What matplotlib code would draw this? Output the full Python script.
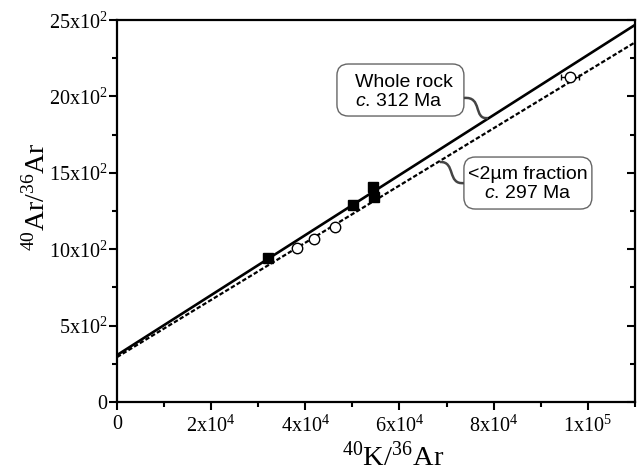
import numpy as np
import matplotlib
matplotlib.use("Agg")
import matplotlib.pyplot as plt
from matplotlib.path import Path
from matplotlib.patches import PathPatch, FancyBboxPatch
from matplotlib.ticker import MultipleLocator, FixedLocator

plt.rcParams['mathtext.fontset'] = 'custom'
plt.rcParams['mathtext.rm'] = 'Liberation Serif'
plt.rcParams['mathtext.it'] = 'Liberation Sans:italic'

# Whole rock (filled squares)
wr_x = [32100, 50100, 54400, 54600]
wr_y = [942, 1289, 1405, 1345]
wr_yerr = [12, 15, 30, 30]

# <2um fraction (open circles)
fr_x = [38200, 41800, 46300, 96200]
fr_y = [1008, 1067, 1145, 2127]
fr_xerr = [600, 600, 600, 1900]
fr_yerr = [10, 10, 10, 25]

# isochrons (intercept, slope)
wr_fit = (307, 0.01964)
fr_fit = (294, 0.01872)

xticks = [0, 20000, 40000, 60000, 80000, 100000]
xticklabels = ['0', r'2x10$^{4}$', r'4x10$^{4}$', r'6x10$^{4}$', r'8x10$^{4}$', r'1x10$^{5}$']
yticks = [0, 500, 1000, 1500, 2000, 2500]
yticklabels = ['0', r'5x10$^{2}$', r'10x10$^{2}$', r'15x10$^{2}$', r'20x10$^{2}$', r'25x10$^{2}$']

fig = plt.figure(figsize=(6.4, 4.73), dpi=100)
ax = fig.add_axes([0.1828, 0.150, 0.8092, 0.8077])
ax.set_xlim(0, 110000)
ax.set_ylim(0, 2500)

xx = np.array([0, 110000])
ax.plot(xx, wr_fit[0] + wr_fit[1] * xx, color='black', lw=1.9, zorder=2)
ax.plot(xx, fr_fit[0] + fr_fit[1] * xx, color='black', lw=1.6, ls=(0, (2.0, 1.0)), zorder=2)

ax.errorbar(wr_x, wr_y, yerr=wr_yerr, fmt='s', color='black', ms=6.5, capsize=2,
            elinewidth=1, zorder=4)
ax.errorbar(fr_x, fr_y, xerr=fr_xerr, yerr=fr_yerr, fmt='o', mfc='white', mec='black',
            ecolor='black', ms=7.5, mew=1.0, capsize=2, elinewidth=1, zorder=3)

for s in ax.spines.values():
    s.set_linewidth(1.6)

ax.xaxis.set_major_locator(FixedLocator(xticks))
ax.set_xticklabels(xticklabels)
ax.yaxis.set_major_locator(FixedLocator(yticks))
ax.set_yticklabels(yticklabels)
ax.xaxis.set_minor_locator(MultipleLocator(10000))
ax.yaxis.set_minor_locator(MultipleLocator(250))

ax.tick_params(axis='both', which='both', direction='out', width=1.5,
               labelsize=14.5, labelfontfamily='Liberation Serif')
ax.tick_params(axis='both', which='major', length=6)
ax.tick_params(axis='both', which='minor', length=3.5)
ax.tick_params(axis='y', which='major', pad=1)
ax.tick_params(axis='x', which='major', pad=3)
ax.tick_params(axis='y', which='both', right=True, labelright=False)
ax.tick_params(axis='x', which='both', top=False)

# right-side ticks point inward
for tl in ax.yaxis.get_majorticklines()[1::2]:
    tl.set_marker(0)
for tl in ax.yaxis.get_minorticklines()[1::2]:
    tl.set_marker(0)

ax.set_xlabel(r'$^{40}$K/$^{36}$Ar', fontsize=20.5, family='Liberation Serif')
ax.set_ylabel(r'$^{40}$Ar/$^{36}$Ar', fontsize=20, family='Liberation Serif')
ax.xaxis.set_label_coords(0.533, -0.104)
ax.yaxis.set_label_coords(-0.128, 0.539)

def px(x, y):
    return ((x - 117) / 518.0, (402 - y) / 382.0)

def box(x0, y0, x1, y1):
    a = px(x0, y1)
    b = px(x1, y0)
    p = FancyBboxPatch(a, b[0] - a[0], b[1] - a[1], boxstyle='round,pad=0,rounding_size=0.022',
                       transform=ax.transAxes, fc='white', ec='#666666', lw=1.0,
                       zorder=5, mutation_aspect=518 / 382.0)
    ax.add_patch(p)

box(337, 64, 464, 116)
box(464, 157, 592, 209)

t1 = px(355, 92)
ax.text(t1[0], t1[1], 'Whole rock\n$\\it{c}$. 312 Ma', transform=ax.transAxes, ha='left',
        va='center', fontsize=14, family='Liberation Sans', linespacing=1.1, zorder=6,
        multialignment='left')
t2 = px(528, 184)
ax.text(t2[0], t2[1], '<2µm fraction\n$\\it{c}$. 297 Ma', transform=ax.transAxes, ha='center',
        va='center', fontsize=14, family='Liberation Sans', linespacing=1.1, zorder=6)

def connector(pts):
    verts = [px(*p) for p in pts]
    codes = [Path.MOVETO, Path.CURVE4, Path.CURVE4, Path.CURVE4]
    ax.add_patch(PathPatch(Path(verts, codes), transform=ax.transAxes, fc='none',
                           ec='#444444', lw=1.8, zorder=5))

connector([(464, 98), (483, 96), (473, 120), (488, 118)])
connector([(464, 183), (447, 185), (456, 161), (440, 162)])

fig.savefig('out.png', dpi=100)
